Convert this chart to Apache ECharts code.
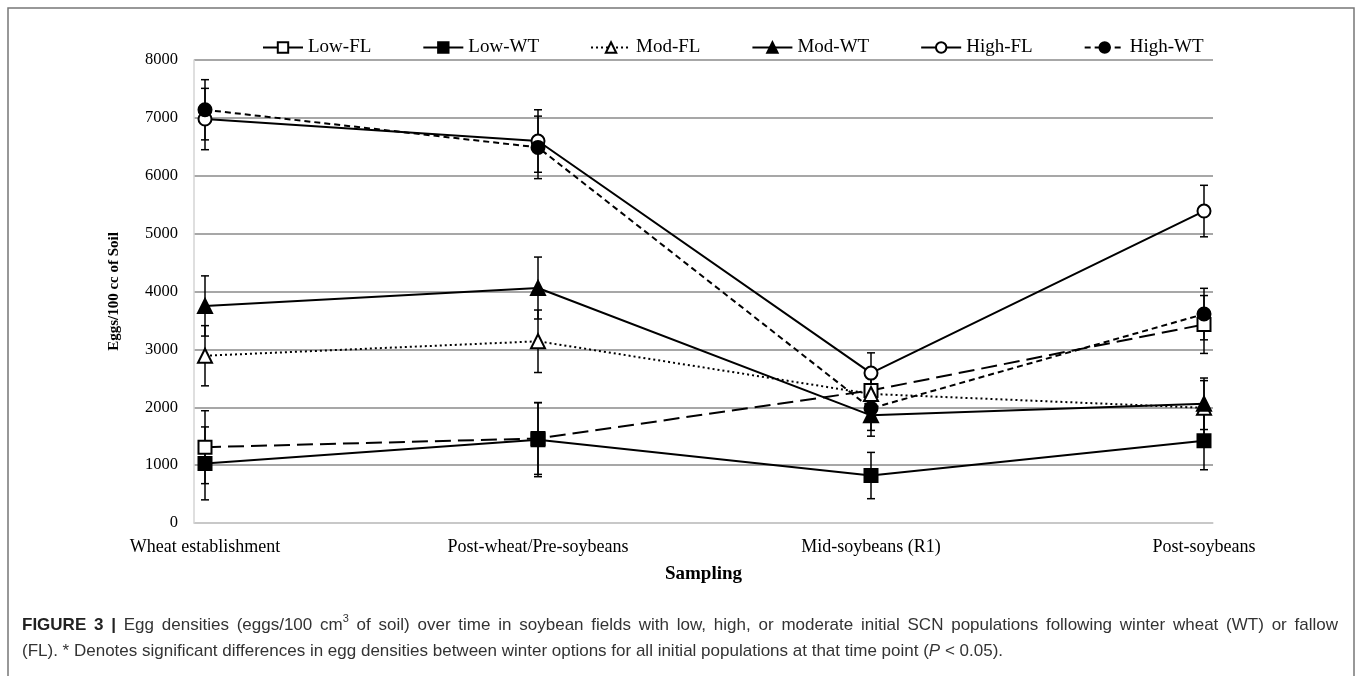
<!DOCTYPE html>
<html>
<head>
<meta charset="utf-8">
<script src="https://cdn.jsdelivr.net/npm/echarts@6/dist/echarts.min.js"></script>
<style>
  html, body { margin: 0; padding: 0; background: #fff; }
  #main { width: 1358px; height: 676px; }
</style>
</head>
<body>
<div id="main"></div>
<script>
// sampling times
var categories = ['Wheat establishment', 'Post-wheat/Pre-soybeans', 'Mid-soybeans (R1)', 'Post-soybeans'];

// eggs / 100 cc soil, means and error bar half widths
var lowFL = [1310, 1460, 2290, 3430];
var lowFLErr = [630, 620, 300, 500];
var lowWT = [1030, 1440, 820, 1420];
var lowWTErr = [630, 640, 400, 500];
var modFL = [2890, 3140, 2230, 1990];
var modFLErr = [520, 540, 300, 470];
var modWT = [3750, 4060, 1860, 2060];
var modWTErr = [520, 535, 360, 445];
var highFL = [6980, 6600, 2590, 5390];
var highFLErr = [530, 540, 350, 445];
var highWT = [7140, 6490, 1980, 3610];
var highWTErr = [520, 540, 380, 445];

var yTicks = [0, 8000, 1000]; // min, max, step

var serif = '"Liberation Serif", "Times New Roman", serif';
var sans = '"Liberation Sans", Arial, sans-serif';

var chart = echarts.init(document.getElementById('main'));

// line + markers
function lineSeries(name, data, symbol, filled, dash) {
    return {
        name: name,
        type: 'line',
        xAxisIndex: 1,
        yAxisIndex: 1,
        data: data,
        symbol: symbol,
        symbolSize: symbol === 'triangle' ? 14 : 13,
        showAllSymbol: true,
        z: 4,
        lineStyle: { color: '#000', width: 2, type: dash },
        itemStyle: { color: filled ? '#000' : '#fff', borderColor: '#000', borderWidth: 2, opacity: 1 },
        emphasis: { disabled: true }
    };
}

// error bars drawn with custom series
function errSeries(vals, errs) {
    var d = [];
    for (var i = 0; i < vals.length; i++) d.push([i, vals[i], errs[i]]);
    return {
        type: 'custom',
        xAxisIndex: 1,
        yAxisIndex: 1,
        z: 2,
        silent: true,
        data: d,
        renderItem: function (params, api) {
            var x = api.value(0), v = api.value(1), e = api.value(2);
            var top = api.coord([x, v + e]);
            var bot = api.coord([x, v - e]);
            var w = 4;
            var st = { stroke: '#000', lineWidth: 1.5 };
            return {
                type: 'group',
                children: [
                    { type: 'line', shape: { x1: top[0], y1: top[1], x2: bot[0], y2: bot[1] }, style: st },
                    { type: 'line', shape: { x1: top[0] - w, y1: top[1], x2: top[0] + w, y2: top[1] }, style: st },
                    { type: 'line', shape: { x1: bot[0] - w, y1: bot[1], x2: bot[0] + w, y2: bot[1] }, style: st }
                ]
            };
        }
    };
}

// caption: first line is justified like the journal layout
var capFont = '17px "Liberation Sans", Arial, sans-serif';
var capBold = 'bold 17px "Liberation Sans", Arial, sans-serif';
var capItal = 'italic 17px "Liberation Sans", Arial, sans-serif';
var line1 = [['FIGURE', 1], ['3', 1], ['|', 1], ['Egg'], ['densities'], ['(eggs/100'], ['cm', 0, '3'], ['of'], ['soil)'],
    ['over'], ['time'], ['in'], ['soybean'], ['fields'], ['with'], ['low,'], ['high,'], ['or'], ['moderate'], ['initial'],
    ['SCN'], ['populations'], ['following'], ['winter'], ['wheat'], ['(WT)'], ['or'], ['fallow']];
var ctx = document.createElement('canvas').getContext('2d');
function measure(font, t) { ctx.font = font; return ctx.measureText(t).width; }

function captionGraphics() {
    var out = [];
    var left = 22, right = 1338, y1 = 625, y2 = 651;
    var widths = [], total = 0;
    line1.forEach(function (w) {
        var wd = measure(w[1] ? capBold : capFont, w[0]);
        if (w[2]) wd += measure('11px "Liberation Sans"', w[2]);
        widths.push(wd);
        total += wd;
    });
    var gap = (right - left - total) / (line1.length - 1);
    var x = left;
    line1.forEach(function (w, i) {
        out.push({
            type: 'text', silent: true,
            style: { x: x, y: y1, text: w[0], font: w[1] ? capBold : capFont, fill: w[1] ? '#222' : '#333', verticalAlign: 'middle', textVerticalAlign: 'middle' }
        });
        if (w[2]) {
            out.push({
                type: 'text', silent: true,
                style: { x: x + measure(capFont, w[0]), y: y1 - 6, text: w[2], font: '11px "Liberation Sans", Arial, sans-serif', fill: '#333', verticalAlign: 'middle', textVerticalAlign: 'middle' }
            });
        }
        x += widths[i] + gap;
    });
    // second line, left aligned
    var pre = '(FL). * Denotes significant differences in egg densities between winter options for all initial populations at that time point (';
    var xp = left;
    out.push({ type: 'text', silent: true, style: { x: xp, y: y2, text: pre, font: capFont, fill: '#333', verticalAlign: 'middle', textVerticalAlign: 'middle' } });
    xp += measure(capFont, pre);
    out.push({ type: 'text', silent: true, style: { x: xp, y: y2, text: 'P', font: capItal, fill: '#333', verticalAlign: 'middle', textVerticalAlign: 'middle' } });
    xp += measure(capItal, 'P');
    out.push({ type: 'text', silent: true, style: { x: xp, y: y2, text: ' < 0.05).', font: capFont, fill: '#333', verticalAlign: 'middle', textVerticalAlign: 'middle' } });
    return out;
}

var option = {
    animation: false,
    backgroundColor: '#fff',
    legend: {
        left: 262,
        top: 38,
        padding: 0,
        itemWidth: 40,
        itemHeight: 13,
        itemGap: 51,
        textStyle: { fontFamily: serif, fontSize: 19, color: '#000' },
        data: [
            { name: 'Low-FL', lineStyle: { type: 'solid' } },
            { name: 'Low-WT' },
            { name: 'Mod-FL' },
            { name: 'Mod-WT' },
            { name: 'High-FL' },
            { name: 'High-WT' }
        ]
    },
    grid: [
        { left: 194, right: 145, top: 60, bottom: 153 },
        { left: 205, right: 154, top: 60, bottom: 153 }
    ],
    xAxis: [
        {
            gridIndex: 0, type: 'value', min: 0, max: 1, z: 3,
            axisLine: { show: true, lineStyle: { color: '#d4d4d4', width: 1.5 } },
            axisTick: { show: false }, axisLabel: { show: false }, splitLine: { show: false },
            name: 'Sampling', nameLocation: 'middle', nameGap: 42,
            nameTextStyle: { fontFamily: serif, fontSize: 19, fontWeight: 'bold', color: '#000' }
        },
        {
            gridIndex: 1, type: 'category', boundaryGap: false, data: categories,
            axisLine: { show: false }, axisTick: { show: false }, splitLine: { show: false },
            axisLabel: { interval: 0, margin: 15, fontFamily: serif, fontSize: 18, color: '#000' }
        }
    ],
    yAxis: [
        {
            gridIndex: 0, type: 'value', min: yTicks[0], max: yTicks[1], interval: yTicks[2],
            axisLine: { show: true, lineStyle: { color: '#d4d4d4', width: 1.5 } },
            axisTick: { show: false },
            axisLabel: {
                margin: 16, fontFamily: serif, fontSize: 16.5, color: '#000',
                formatter: function (v) { return String(v); }
            },
            splitLine: { lineStyle: { color: '#8a8a8a', width: 1.5 } },
            name: 'Eggs/100 cc of Soil', nameLocation: 'middle', nameRotate: 90, nameGap: 72,
            nameTextStyle: { fontFamily: serif, fontSize: 15, fontWeight: 'bold', color: '#000' }
        },
        {
            gridIndex: 1, type: 'value', min: yTicks[0], max: yTicks[1], interval: yTicks[2], show: false
        }
    ],
    series: [
        errSeries(lowFL, lowFLErr),
        errSeries(lowWT, lowWTErr),
        errSeries(modFL, modFLErr),
        errSeries(modWT, modWTErr),
        errSeries(highFL, highFLErr),
        errSeries(highWT, highWTErr),
        lineSeries('Low-FL', lowFL, 'rect', false, [16, 7]),
        lineSeries('Low-WT', lowWT, 'rect', true, 'solid'),
        lineSeries('Mod-FL', modFL, 'triangle', false, [2, 3]),
        lineSeries('Mod-WT', modWT, 'triangle', true, 'solid'),
        lineSeries('High-FL', highFL, 'circle', false, 'solid'),
        lineSeries('High-WT', highWT, 'circle', true, [6, 4])
    ],
    graphic: [
        {
            type: 'rect', silent: true, z: -1,
            shape: { x: 8, y: 8, width: 1346, height: 720 },
            style: { fill: null, stroke: '#777', lineWidth: 1.5 }
        }
    ].concat(captionGraphics())
};

chart.setOption(option);
</script>
</body>
</html>
